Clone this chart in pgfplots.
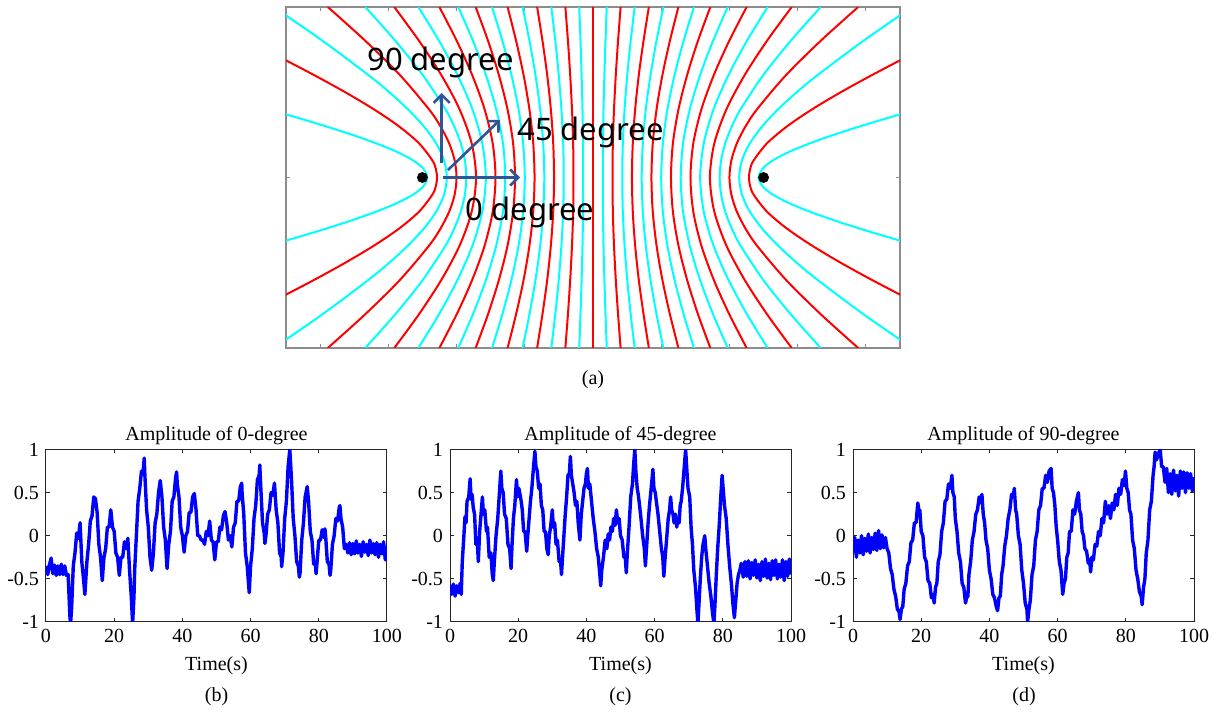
\documentclass[border=0pt]{standalone}
\usepackage{fontspec}
\setmainfont{Liberation Serif}
\newfontfamily\notosans{Noto Sans}
\usepackage{pgfplots}
\pgfplotsset{compat=1.18}
\usepackage{pgfplotstable}
\usetikzlibrary{arrows.meta}
\definecolor{arrowblue}{HTML}{2F5597}
\definecolor{sigblue}{RGB}{0,0,255}
\definecolor{framegray}{HTML}{8C8C8C}
\definecolor{lineCyan}{RGB}{0,255,255}
\definecolor{lineRed}{RGB}{255,0,0}

% amplitude of 0-degree
\pgfplotstableread{
t v
0 -0.35
0.5 -0.45
1 -0.34
1.5 -0.26
2 -0.44
2.5 -0.34
3 -0.46
3.5 -0.35
4 -0.45
4.5 -0.33
5 -0.45
5.5 -0.35
6 -0.46
6.5 -0.45
7 -0.93
7.2 -1.02
7.5 -0.85
8 -0.35
8.5 -0.20
9 0.03
9.5 -0.03
10 0.15
10.5 -0.30
11 -0.50
11.4 -0.68
12 -0.30
12.5 -0.10
13 0.17
13.5 0.23
14 0.45
14.5 0.43
15 0.27
15.5 -0.10
16 -0.25
16.5 -0.52
17 -0.25
17.5 -0.15
18 0.10
18.5 0.10
19 0.30
19.5 0.10
20 0.05
20.5 -0.20
21 -0.25
21.5 -0.46
22 -0.25
22.5 -0.25
23 -0.07
23.5 -0.15
24 -0.03
24.5 -0.40
25 -0.70
25.4 -1.02
25.8 -0.70
26 -0.40
26.5 0.00
27 0.40
27.5 0.55
28 0.75
28.5 0.75
28.8 0.90
29 0.70
29.5 0.30
30 0.10
30.5 -0.25
31 -0.40
31.5 -0.20
32 0.15
32.5 0.25
33 0.50
33.5 0.64
34 0.45
34.5 0.10
35 -0.05
35.5 -0.38
36 -0.10
36.5 0.05
37 0.40
37.5 0.45
38 0.67
38.3 0.74
38.5 0.60
39 0.45
39.5 0.10
40 0.00
40.5 -0.19
41 0.00
41.5 0.05
42 0.27
42.5 0.27
43 0.45
43.5 0.49
44 0.30
44.5 0.00
45 0.00
45.5 -0.05
46 -0.05
46.5 -0.10
47 0.05
47.5 0.00
48 0.17
48.5 -0.05
49 -0.07
49.5 -0.28
50 -0.07
50.5 -0.07
51 0.10
51.5 0.07
52 0.23
52.5 0.28
53 0.15
53.5 -0.05
54 0.00
54.5 -0.13
55 0.10
55.5 0.15
56 0.40
56.5 0.40
57 0.57
57.4 0.61
57.5 0.50
58 0.25
58.5 -0.20
59 -0.35
59.6 -0.66
60 -0.35
60.5 -0.15
61 0.20
61.5 0.35
62 0.65
62.5 0.70
62.7 0.82
63 0.55
63.5 0.15
64 0.03
64.2 -0.09
64.5 0.00
65 0.25
65.5 0.30
66 0.50
66.5 0.47
67 0.61
67.5 0.30
68 0.15
68.5 -0.20
69 -0.25
69.1 -0.36
69.5 -0.20
70 0.20
70.5 0.40
71 0.80
71.5 1.00
72 0.65
72.5 0.20
73 0.00
73.5 -0.30
74 -0.35
74.3 -0.48
74.5 -0.43
75 -0.05
75.5 0.15
76 0.45
76.6 0.57
77 0.40
77.5 0.05
78 -0.05
78.5 -0.33
79 -0.33
79.2 -0.44
79.5 -0.30
80 -0.05
80.5 -0.05
81 0.07
81.5 -0.02
81.8 0.08
82 0.00
82.5 -0.30
83 -0.33
83.3 -0.46
83.5 -0.40
84 -0.10
84.5 0.00
85 0.20
85.5 0.17
86 0.33
86.2 0.35
86.5 0.20
87 0.10
87.5 -0.15
88 -0.10
88.5 -0.20
89 -0.08
89.5 -0.22
90 -0.09
90.5 -0.21
91 -0.06
91.5 -0.20
92 -0.10
92.5 -0.24
93 -0.07
93.5 -0.19
94 -0.10
94.5 -0.23
95 -0.05
95.5 -0.20
96 -0.09
96.5 -0.22
97 -0.08
97.5 -0.25
98 -0.10
98.5 -0.21
99 -0.07
99.5 -0.28
100 -0.12
}\datab

% amplitude of 45-degree
\pgfplotstableread{
t v
0 -0.57
0.5 -0.68
1 -0.56
1.5 -0.70
2 -0.58
2.5 -0.66
3 -0.55
3.3 -0.68
3.6 -0.30
4 -0.05
4.4 0.22
4.7 0.15
5 0.40
5.5 0.45
5.9 0.66
6.2 0.42
6.5 0.48
6.8 0.33
7.2 0.25
7.6 -0.10
8 -0.05
8.3 -0.30
8.7 0.05
9 0.20
9.5 0.45
9.8 0.25
10.2 0.30
10.7 0.05
11 0.10
11.5 -0.25
12 -0.20
12.4 -0.45
12.7 -0.52
13 -0.30
13.5 0.00
14 0.20
14.5 0.50
14.9 0.75
15.2 0.55
15.6 0.50
16 0.25
16.5 0.20
17 -0.10
17.5 -0.15
17.9 -0.38
18.2 -0.10
18.6 0.20
19 0.35
19.5 0.65
19.8 0.45
20.2 0.55
20.8 0.42
21.2 0.30
21.6 0.05
22 0.05
22.5 -0.18
22.8 0.00
23.2 0.20
23.6 0.40
24 0.55
24.5 0.80
24.9 0.98
25.2 0.80
25.6 0.75
26 0.55
26.4 0.60
26.8 0.35
27.2 0.30
27.6 0.05
28 0.05
28.4 -0.15
28.8 -0.22
29.1 0.00
29.5 0.10
30 0.30
30.3 0.10
30.7 0.15
31.1 -0.10
31.5 -0.05
32 -0.30
32.4 -0.28
32.7 -0.45
33 -0.25
33.4 0.00
33.8 0.25
34.2 0.45
34.6 0.70
35 0.72
35.3 0.92
35.6 0.70
36 0.60
36.4 0.50
36.8 0.35
37.2 0.40
37.6 0.15
38.1 -0.05
38.5 0.25
38.9 0.40
39.3 0.55
39.7 0.60
40 0.72
40.3 0.78
40.6 0.55
41 0.60
41.5 0.40
42 0.20
42.5 0.05
43 -0.15
43.5 -0.25
44 -0.48
44.2 -0.58
44.5 -0.40
45 -0.25
45.5 -0.05
46 -0.15
46.4 0.02
46.8 -0.05
47.2 0.10
47.6 0.05
48 0.20
48.4 0.12
48.8 0.30
49.2 0.15
49.6 0.20
50 0.00
50.5 -0.05
51 -0.25
51.4 -0.25
51.7 -0.43
52 -0.20
52.5 0.10
53 0.45
53.5 0.60
53.9 0.85
54.2 1.00
54.5 0.75
54.9 0.55
55.2 0.48
55.6 0.35
56 0.20
56.5 0.00
57 -0.15
57.3 -0.35
57.7 -0.10
58.1 0.15
58.5 0.35
59 0.55
59.5 0.77
59.8 0.55
60.2 0.50
60.5 0.40
61 0.25
61.5 0.05
62 -0.15
62.4 -0.25
62.7 -0.47
63 -0.30
63.5 -0.05
64 0.20
64.4 0.30
64.7 0.45
65 0.30
65.4 0.25
65.7 0.15
66.1 0.25
66.5 0.10
66.8 0.20
67.2 0.15
67.5 0.35
67.8 0.40
68.2 0.55
68.6 0.75
69.1 1.00
69.4 0.80
69.8 0.55
70.3 0.45
70.7 0.10
71.1 -0.10
71.5 -0.40
72 -0.60
72.4 -0.85
72.7 -1.02
73 -0.80
73.4 -0.50
73.8 -0.25
74.2 -0.10
74.7 0.00
75 -0.15
75.5 -0.35
76 -0.55
76.5 -0.70
77 -0.90
77.4 -1.02
77.7 -0.80
78.1 -0.45
78.5 -0.15
79 0.15
79.4 0.45
79.8 0.70
80.1 0.55
80.5 0.35
81 0.20
81.5 -0.10
82 -0.35
82.5 -0.55
83 -0.80
83.4 -0.95
83.8 -0.75
84.2 -0.55
84.6 -0.45
85 -0.40
85.4 -0.32
86 -0.48
86.5 -0.30
87 -0.47
87.5 -0.29
88 -0.50
88.5 -0.31
89 -0.46
89.5 -0.28
90 -0.49
90.5 -0.33
91 -0.52
91.5 -0.30
92 -0.47
92.5 -0.27
93 -0.49
93.5 -0.32
94 -0.51
94.5 -0.29
95 -0.46
95.5 -0.28
96 -0.50
96.5 -0.33
97 -0.48
97.5 -0.28
98 -0.52
98.5 -0.30
99 -0.47
99.5 -0.27
100 -0.45
}\datac

% amplitude of 90-degree
\pgfplotstableread{
t v
0 -0.20
0.5 -0.02
1 -0.25
1.5 -0.05
2 -0.20
2.5 0.00
3 -0.22
3.5 -0.03
4 -0.18
4.5 0.02
5 -0.20
5.5 -0.02
6 -0.16
6.5 0.03
7 -0.17
7.5 0.06
8 -0.15
8.5 0.01
9 -0.14
9.5 -0.02
10 -0.15
10.5 -0.20
11 -0.38
11.5 -0.45
12 -0.62
12.5 -0.70
13 -0.85
13.5 -0.88
13.8 -0.97
14.2 -0.85
14.6 -0.82
15 -0.62
15.5 -0.55
16 -0.35
16.5 -0.30
17 -0.08
17.5 -0.05
18 0.15
18.5 0.15
19 0.38
19.3 0.30
19.6 0.30
20 0.05
20.5 0.00
21 -0.25
21.5 -0.30
22 -0.52
22.5 -0.55
23 -0.72
23.5 -0.68
23.8 -0.78
24.2 -0.60
24.6 -0.55
25 -0.30
25.5 -0.22
26 0.05
26.5 0.15
27 0.40
27.5 0.42
28 0.60
28.5 0.55
29 0.70
29.3 0.50
29.7 0.45
30 0.20
30.5 0.05
31 -0.20
31.5 -0.30
32 -0.55
32.5 -0.60
33 -0.78
33.3 -0.72
33.7 -0.70
34 -0.45
34.5 -0.30
35 -0.05
35.5 0.05
36 0.25
36.5 0.30
37 0.45
37.5 0.38
37.8 0.48
38.2 0.25
38.6 0.15
39 -0.05
39.5 -0.15
40 -0.40
40.5 -0.50
41 -0.68
41.5 -0.72
42 -0.82
42.4 -0.87
42.8 -0.72
43.2 -0.70
43.6 -0.45
44 -0.35
44.5 -0.12
45 0.00
45.5 0.20
46 0.30
46.5 0.48
47 0.45
47.3 0.55
47.7 0.30
48 0.25
48.5 0.00
49 -0.10
49.5 -0.40
50 -0.55
50.5 -0.78
51 -0.85
51.2 -1.00
51.6 -0.85
52 -0.75
52.5 -0.45
53 -0.35
53.5 -0.05
54 0.05
54.5 0.30
55 0.35
55.5 0.55
56 0.55
56.5 0.70
57 0.62
57.5 0.75
58.1 0.78
58.4 0.55
58.8 0.50
59.2 0.35
59.6 0.10
60 -0.05
60.5 -0.30
61 -0.40
61.5 -0.68
61.9 -0.55
62.3 -0.50
62.7 -0.25
63.1 -0.20
63.5 0.05
64 0.05
64.5 0.30
65 0.25
65.5 0.40
66.1 0.50
66.4 0.30
66.8 0.25
67.2 0.05
67.6 0.00
68 -0.15
68.5 -0.18
69 -0.32
69.4 -0.28
69.7 -0.42
70 -0.25
70.5 -0.28
71 -0.10
71.5 -0.12
72 0.05
72.5 0.00
73 0.20
73.5 0.15
74 0.40
74.5 0.25
75 0.35
75.5 0.20
76 0.38
76.5 0.30
77 0.48
77.5 0.35
78 0.55
78.5 0.48
79 0.65
79.5 0.58
79.9 0.75
80.3 0.55
80.7 0.50
81.1 0.30
81.5 0.25
82 -0.05
82.5 -0.15
83 -0.40
83.5 -0.50
84 -0.65
84.5 -0.70
84.8 -0.80
85.2 -0.60
85.6 -0.50
86 -0.20
86.5 -0.05
87 0.30
87.5 0.40
88 0.70
88.3 0.80
88.6 0.97
89 0.88
89.5 0.95
90.1 1.00
90.5 0.80
91 0.80
91.5 0.62
92 0.78
92.5 0.50
93 0.72
93.5 0.48
94 0.76
94.5 0.52
95 0.70
95.5 0.46
96 0.75
96.5 0.55
97 0.74
97.5 0.50
98 0.73
98.5 0.55
99 0.72
99.5 0.52
100 0.68
}\datad

\pgfplotsset{
  rd/.style={lineRed, line width=1pt, smooth, no marks},
  cy/.style={lineCyan, line width=1pt, smooth, no marks},
  sigline/.style={sigblue, line width=1.7pt, no marks, line join=round},
  sig/.style={
    anchor=south west, scale only axis, width=170.5pt, height=86.25pt,
    xmin=0, xmax=100, ymin=-1, ymax=1,
    xtick={0,20,...,100}, ytick={-1,-0.5,0,0.5,1},
    tick align=inside, major tick length=2pt,
    axis line style={black!85, line width=0.5pt}, tick style={black!85, line width=0.5pt},
    ticklabel style={font=\fontsize{10}{12}\selectfont},
    /pgf/number format/assume math mode=true,
    xlabel={Time(s)}, label style={font=\fontsize{10}{12}\selectfont},
    title style={font=\fontsize{10}{12}\selectfont, yshift=-7pt},
  },
}

% one hyperbola pair (mirrored about x=0); x values at |y| = 2.5, 2, 1.5, 1, 0.5, 0
\newcommand\hypA[7]{%
  \addplot[#1] coordinates {(#2,-2.5)(#3,-2)(#4,-1.5)(#5,-1)(#6,-0.5)(#7,0)(#6,0.5)(#5,1)(#4,1.5)(#3,2)(#2,2.5)};
  \addplot[#1] coordinates {(-#2,-2.5)(-#3,-2)(-#4,-1.5)(-#5,-1)(-#6,-0.5)(-#7,0)(-#6,0.5)(-#5,1)(-#4,1.5)(-#3,2)(-#2,2.5)};}
% x values at |y| = 2.5, 2, 1.5, 1, 0.75, 0.5, 0.25, 0
\newcommand\hypB[9]{%
  \addplot[#1] coordinates {(#2,-2.5)(#3,-2)(#4,-1.5)(#5,-1)(#6,-0.75)(#7,-0.5)(#8,-0.25)(#9,0)(#8,0.25)(#7,0.5)(#6,0.75)(#5,1)(#4,1.5)(#3,2)(#2,2.5)};
  \addplot[#1] coordinates {(-#2,-2.5)(-#3,-2)(-#4,-1.5)(-#5,-1)(-#6,-0.75)(-#7,-0.5)(-#8,-0.25)(-#9,0)(-#8,0.25)(-#7,0.5)(-#6,0.75)(-#5,1)(-#4,1.5)(-#3,2)(-#2,2.5)};}

\begin{document}
\begin{tikzpicture}
\path[use as bounding box] (0pt,0pt) rectangle (608.5pt,-357.5pt);

\begin{axis}[
    at={(143pt,-174pt)}, anchor=south west, scale only axis,
    width=307pt, height=170.5pt,
    xmin=-4.5, xmax=4.5, ymin=-2.5, ymax=2.5,
    xtick={-4,-3,...,4}, ytick={0}, xticklabels={}, yticklabels={},
    tick align=inside, major tick length=2pt,
    axis line style={framegray, line width=0.6pt}, tick style={framegray, line width=0.6pt},
  ]
  \addplot[rd] coordinates {(0,-2.5)(0,2.5)};
  \hypA{cy}{0.202}{0.183}{0.167}{0.154}{0.146}{0.143}
  \hypA{rd}{0.405}{0.367}{0.334}{0.308}{0.291}{0.286}
  \hypA{cy}{0.611}{0.552}{0.502}{0.463}{0.437}{0.429}
  \hypA{rd}{0.819}{0.740}{0.671}{0.618}{0.583}{0.571}
  \hypA{cy}{1.032}{0.930}{0.843}{0.774}{0.730}{0.714}
  \hypA{rd}{1.252}{1.126}{1.017}{0.932}{0.876}{0.857}
  \hypA{cy}{1.480}{1.327}{1.195}{1.091}{1.024}{1.000}
  \hypA{rd}{1.720}{1.537}{1.379}{1.253}{1.171}{1.143}
  \hypA{cy}{1.975}{1.758}{1.569}{1.419}{1.320}{1.286}
  \hypA{rd}{2.252}{1.995}{1.770}{1.589}{1.470}{1.429}
  \hypA{cy}{2.560}{2.254}{1.985}{1.767}{1.623}{1.571}
  \hypA{rd}{2.913}{2.547}{2.222}{1.956}{1.778}{1.714}
  \hypB{cy}{3.338}{2.894}{2.494}{2.163}{2.035}{1.938}{1.878}{1.857}
  \hypB{rd}{3.887}{3.333}{2.828}{2.404}{2.236}{2.108}{2.028}{2.000}
  \addplot[cy] coordinates {(4.680,-2.5)(3.958,-2)(3.290,-1.5)(2.986,-1.25)(2.713,-1)(2.480,-0.75)(2.299,-0.5)(2.183,-0.25)(2.143,0)(2.183,0.25)(2.299,0.5)(2.480,0.75)(2.713,1)(2.986,1.25)(3.290,1.5)(3.958,2)(4.680,2.5)};
  \addplot[cy] coordinates {(-4.680,-2.5)(-3.958,-2)(-3.290,-1.5)(-2.986,-1.25)(-2.713,-1)(-2.480,-0.75)(-2.299,-0.5)(-2.183,-0.25)(-2.143,0)(-2.183,0.25)(-2.299,0.5)(-2.480,0.75)(-2.713,1)(-2.986,1.25)(-3.290,1.5)(-3.958,2)(-4.680,2.5)};
  \addplot[rd] coordinates {(5.060,-2)(4.564,-1.75)(4.085,-1.5)(3.631,-1.25)(3.212,-1)(2.844,-0.75)(2.549,-0.5)(2.354,-0.25)(2.303,-0.125)(2.286,0)(2.303,0.125)(2.354,0.25)(2.549,0.5)(2.844,0.75)(3.212,1)(3.631,1.25)(4.085,1.5)(4.564,1.75)(5.060,2)};
  \addplot[rd] coordinates {(-5.060,-2)(-4.564,-1.75)(-4.085,-1.5)(-3.631,-1.25)(-3.212,-1)(-2.844,-0.75)(-2.549,-0.5)(-2.354,-0.25)(-2.303,-0.125)(-2.286,0)(-2.303,0.125)(-2.354,0.25)(-2.549,0.5)(-2.844,0.75)(-3.212,1)(-3.631,1.25)(-4.085,1.5)(-4.564,1.75)(-5.060,2)};
  \addplot[cy] coordinates {(4.759,-1)(4.327,-0.875)(3.914,-0.75)(3.527,-0.625)(3.176,-0.5)(2.873,-0.375)(2.635,-0.25)(2.482,-0.125)(2.429,0)(2.482,0.125)(2.635,0.25)(2.873,0.375)(3.176,0.5)(3.527,0.625)(3.914,0.75)(4.327,0.875)(4.759,1)};
  \addplot[cy] coordinates {(-4.759,-1)(-4.327,-0.875)(-3.914,-0.75)(-3.527,-0.625)(-3.176,-0.5)(-2.873,-0.375)(-2.635,-0.25)(-2.482,-0.125)(-2.429,0)(-2.482,0.125)(-2.635,0.25)(-2.873,0.375)(-3.176,0.5)(-3.527,0.625)(-3.914,0.75)(-4.327,0.875)(-4.759,1)};
  % direction arrows
  \draw[arrowblue, line width=1.3pt, -{Straight Barb[length=4pt,width=8pt]}] (axis cs:-2.218,0.213) -- (axis cs:-2.218,1.239);
  \draw[arrowblue, line width=1.3pt, -{Straight Barb[length=4pt,width=8pt]}] (axis cs:-2.126,0.110) -- (axis cs:-1.364,0.843);
  \draw[arrowblue, line width=1.3pt, -{Straight Barb[length=4pt,width=8pt]}] (axis cs:-2.204,0) -- (axis cs:-1.070,0);
  \node[font=\notosans\fontsize{15.5}{18}\selectfont, inner sep=0pt] at (axis cs:-2.236,1.694) {90 degree};
  \node[font=\notosans\fontsize{15.5}{18}\selectfont, inner sep=0pt] at (axis cs:-0.037,0.667) {45 degree};
  \node[font=\notosans\fontsize{15.5}{18}\selectfont, inner sep=0pt] at (axis cs:-0.924,-0.506) {0 degree};
  \addplot[only marks, mark=*, mark size=2.5pt, black] coordinates {(-2.5,0) (2.5,0)};
\end{axis}
\node[font=\fontsize{10}{12}\selectfont] at (296.5pt,-190pt) {(a)};

\begin{axis}[sig, at={(23pt,-311pt)}, title={Amplitude of 0-degree}]
  \addplot[sigline] table[x=t, y=v] {\datab};
\end{axis}
\begin{axis}[sig, at={(225pt,-311pt)}, title={Amplitude of 45-degree}]
  \addplot[sigline] table[x=t, y=v] {\datac};
\end{axis}
\begin{axis}[sig, at={(426.5pt,-311pt)}, title={Amplitude of 90-degree}]
  \addplot[sigline] table[x=t, y=v] {\datad};
\end{axis}
\node[font=\fontsize{10}{12}\selectfont] at (108.25pt,-348.5pt) {(b)};
\node[font=\fontsize{10}{12}\selectfont] at (310.25pt,-348.5pt) {(c)};
\node[font=\fontsize{10}{12}\selectfont] at (512pt,-348.5pt) {(d)};
\end{tikzpicture}
\end{document}
